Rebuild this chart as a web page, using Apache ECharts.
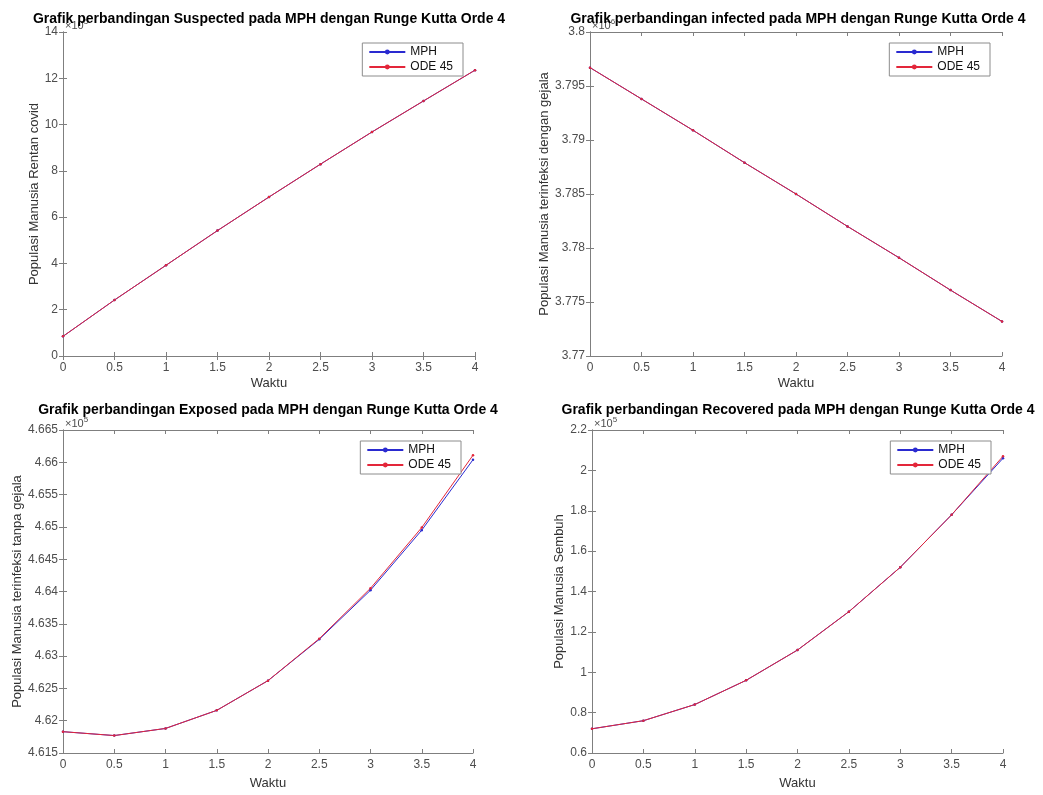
<!DOCTYPE html>
<html>
<head>
<meta charset="utf-8">
<script src="https://cdn.jsdelivr.net/npm/echarts@6/dist/echarts.min.js"></script>
<style>
html,body{margin:0;padding:0;background:#fff}
#main{width:1043px;height:795px}
</style>
</head>
<body>
<div id="main"></div>
<script>
// waktu (sumbu x) untuk keempat grafik
var waktu = [0, 0.5, 1, 1.5, 2, 2.5, 3, 3.5, 4];

// Suspected (x10^5)
var suspectedMPH = [0.85, 2.42, 3.92, 5.42, 6.87, 8.29, 9.68, 11.02, 12.35];
var suspectedODE = [0.85, 2.42, 3.92, 5.42, 6.87, 8.29, 9.68, 11.02, 12.35];
// infected
var infectedMPH = [3.7967, 3.7938, 3.7909, 3.7879, 3.7850, 3.7820, 3.7791, 3.7761, 3.7732];
var infectedODE = [3.7967, 3.7938, 3.7909, 3.7879, 3.7850, 3.7820, 3.7791, 3.7761, 3.7732];
// exposed
var exposedMPH = [4.6183, 4.6177, 4.6188, 4.6216, 4.6262, 4.6326, 4.6402, 4.6495, 4.6604];
var exposedODE = [4.6183, 4.6177, 4.6188, 4.6216, 4.6262, 4.6327, 4.6405, 4.6499, 4.6611];
// recovered
var recoveredMPH = [0.72, 0.76, 0.84, 0.96, 1.11, 1.30, 1.52, 1.78, 2.06];
var recoveredODE = [0.72, 0.76, 0.84, 0.96, 1.11, 1.30, 1.52, 1.78, 2.07];

var judul = [
    'Grafik perbandingan Suspected pada MPH dengan Runge Kutta Orde 4',
    'Grafik perbandingan infected pada MPH dengan Runge Kutta Orde 4',
    'Grafik perbandingan Exposed pada MPH dengan Runge Kutta Orde 4',
    'Grafik perbandingan Recovered pada MPH dengan Runge Kutta Orde 4'
];
var labelY = [
    'Populasi Manusia Rentan covid',
    'Populasi Manusia terinfeksi dengan gejala',
    'Populasi Manusia terinfeksi tanpa gejala',
    'Populasi Manusia Sembuh'
];
var pangkat = ['5', '6', '5', '5'];
var yMin = [0, 3.77, 4.615, 0.6];
var yMax = [14, 3.8, 4.665, 2.2];
var yStep = [2, 0.005, 0.005, 0.2];

var font = 'Liberation Sans, Arial, sans-serif';
var abu = '#7f7f7f';
var biru = '#2a2ad0';
var merah = '#e3263a';

var grids = [
    {left: 63, top: 32, width: 412, height: 324},
    {left: 590, top: 32, width: 412, height: 324},
    {left: 63, top: 430, width: 410, height: 323},
    {left: 592, top: 430, width: 411, height: 323}
];
var namaGapY = [22, 22, 38, 23];
var namaGapX = [21, 21, 24, 24];
var legendRight = [580, 53, 582, 52];
var judulX = [269, 798, 268, 798];
var judulY = [19, 19, 410, 410];

function pasang(ys) {
    return waktu.map(function (t, i) { return [t, ys[i]]; });
}
function rapi(v) {
    return String(parseFloat(v.toFixed(3)));
}

var xAxes = [], yAxes = [], series = [], legends = [], graphics = [];
var dataMPH = [suspectedMPH, infectedMPH, exposedMPH, recoveredMPH];
var dataODE = [suspectedODE, infectedODE, exposedODE, recoveredODE];

for (var g = 0; g < 4; g++) {
    var sumbuX = {
        type: 'value', gridIndex: g, min: 0, max: 4, interval: 0.5,
        axisLine: {show: true, lineStyle: {color: abu, width: 1}},
        axisTick: {show: true, inside: true, length: 4, lineStyle: {color: abu}},
        splitLine: {show: false}
    };
    xAxes.push(Object.assign({}, sumbuX, {
        position: 'bottom', name: 'Waktu', nameLocation: 'middle', nameGap: namaGapX[g],
        nameTextStyle: {fontFamily: font, fontSize: 13, color: '#333'},
        axisLabel: {fontFamily: font, fontSize: 12, color: '#4d4d4d', margin: 6, formatter: rapi}
    }));
    xAxes.push(Object.assign({}, sumbuX, {position: 'top', axisLabel: {show: false}}));

    var sumbuY = {
        type: 'value', gridIndex: g, min: yMin[g], max: yMax[g], interval: yStep[g],
        axisLine: {show: true, lineStyle: {color: abu, width: 1}},
        axisTick: {show: true, inside: true, length: 4, lineStyle: {color: abu}},
        splitLine: {show: false}
    };
    yAxes.push(Object.assign({}, sumbuY, {
        position: 'left', name: labelY[g], nameLocation: 'middle', nameGap: namaGapY[g],
        nameTextStyle: {fontFamily: font, fontSize: 13, color: '#333'},
        axisLabel: {fontFamily: font, fontSize: 12, color: '#4d4d4d', margin: 5, formatter: rapi}
    }));
    yAxes.push(Object.assign({}, sumbuY, {position: 'right', axisLabel: {show: false}}));

    series.push({
        name: 'MPH', type: 'line', xAxisIndex: 2 * g, yAxisIndex: 2 * g,
        data: pasang(dataMPH[g]), symbol: 'circle', symbolSize: 2.5,
        lineStyle: {color: biru, width: 1}, itemStyle: {color: biru},
        animation: false
    });
    series.push({
        name: 'ODE 45', type: 'line', xAxisIndex: 2 * g, yAxisIndex: 2 * g,
        data: pasang(dataODE[g]), symbol: 'circle', symbolSize: 2.5,
        lineStyle: {color: merah, width: 1}, itemStyle: {color: merah},
        animation: false
    });

    legends.push({
        data: ['MPH', 'ODE 45'], orient: 'vertical',
        right: legendRight[g], top: grids[g].top + 11,
        backgroundColor: '#fff', borderColor: '#8c8c8c', borderWidth: 1, borderRadius: 0,
        padding: [3, 10, 3, 6], itemWidth: 36, itemHeight: 6, itemGap: 3,
        itemStyle: {borderWidth: 0},
        textStyle: {fontFamily: font, fontSize: 12, color: '#111'}
    });

    // eksponen x10^n di pojok kiri atas, tertutup judul
    graphics.push({
        type: 'text', left: grids[g].left + 2, top: grids[g].top - 14, z: 1,
        style: {
            text: '{a|×10}{b|' + pangkat[g] + '}',
            rich: {
                a: {fontFamily: font, fontSize: 11, fill: '#4d4d4d'},
                b: {fontFamily: font, fontSize: 8, fill: '#4d4d4d', verticalAlign: 'top', padding: [0, 0, 8, 0]}
            }
        }
    });
    graphics.push({
        type: 'text', x: judulX[g], y: judulY[g], z: 10,
        style: {
            text: judul[g], fontFamily: font, fontSize: 14, fontWeight: 'bold',
            fill: '#000', align: 'center', verticalAlign: 'middle'
        }
    });
}

var myChart = echarts.init(document.getElementById('main'));
myChart.setOption({
    backgroundColor: '#fff',
    animation: false,
    grid: grids,
    xAxis: xAxes,
    yAxis: yAxes,
    legend: legends,
    series: series,
    graphic: graphics
});
</script>
</body>
</html>
